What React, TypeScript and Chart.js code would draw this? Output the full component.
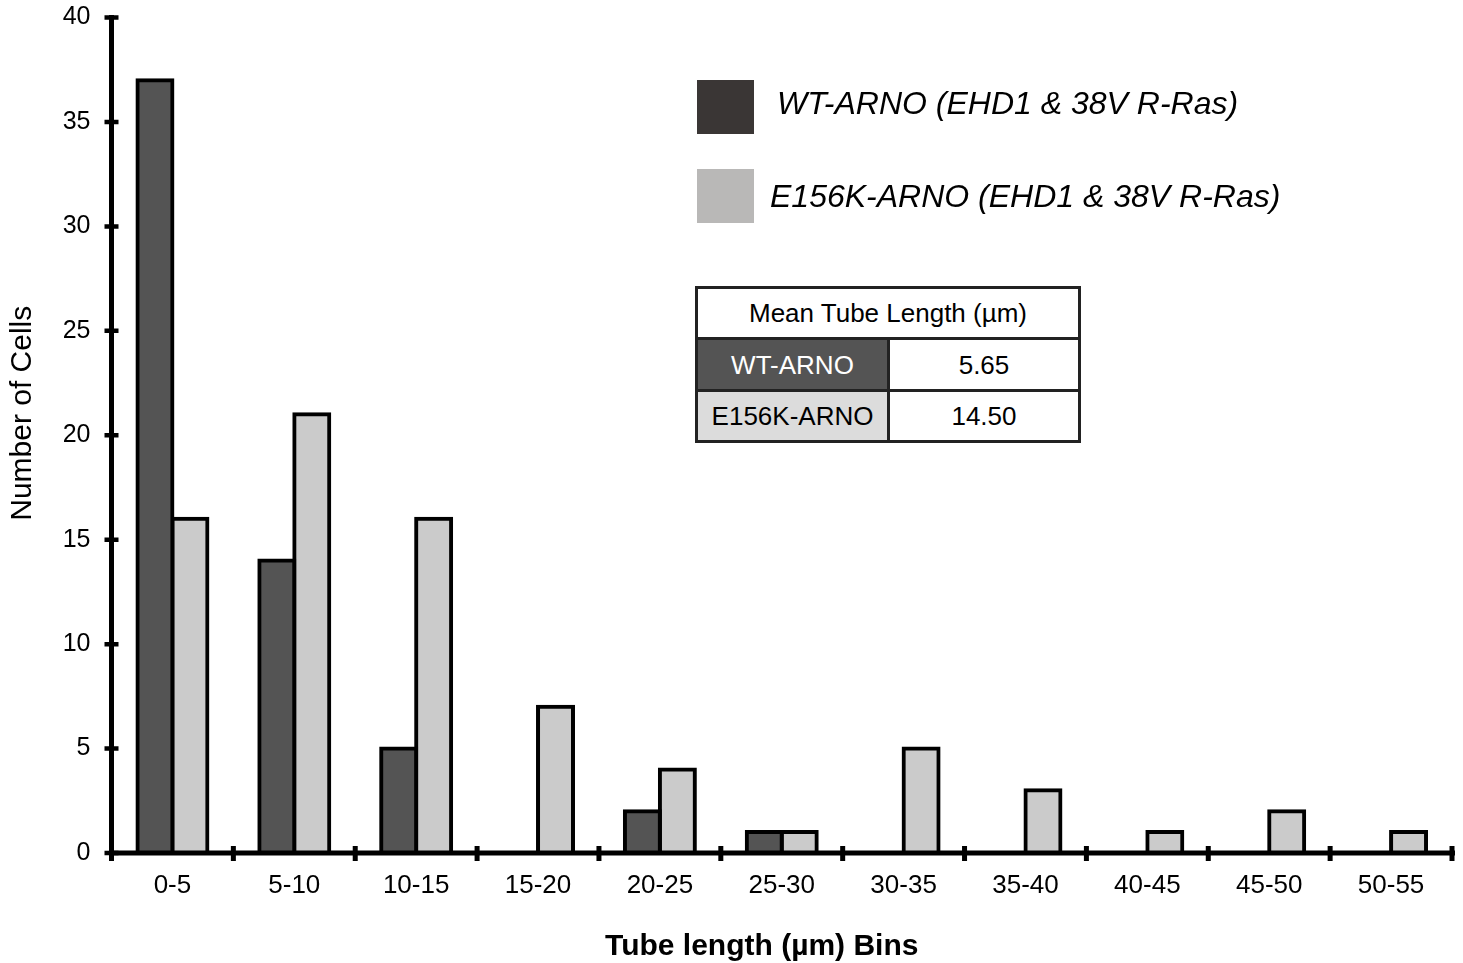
import React, { useEffect, useRef } from "react";
import { Chart, registerables } from "chart.js";

Chart.register(...registerables);

const FONT = "'Liberation Sans', Arial, Helvetica, sans-serif";

const categories = ["0-5", "5-10", "10-15", "15-20", "20-25", "25-30", "30-35", "35-40", "40-45", "45-50", "50-55"];
const wtValues = [37, 14, 5, 0, 2, 1, 0, 0, 0, 0, 0];
const e156kValues = [16, 21, 16, 7, 4, 1, 5, 3, 1, 2, 1];
const yTickValues = [0, 5, 10, 15, 20, 25, 30, 35, 40];
const seriesNames = ["WT-ARNO (EHD1 & 38V R-Ras)", "E156K-ARNO (EHD1 & 38V R-Ras)"];
const tableHeader = "Mean Tube Length (µm)";
const tableRows = [
  { name: "WT-ARNO", mean: "5.65" },
  { name: "E156K-ARNO", mean: "14.50" },
];
const yTitle = "Number of Cells";
const xTitle = "Tube length (µm) Bins";

const axesPlugin = {
  id: "customAxes",
  afterDatasetsDraw(chart: any) {
    const { ctx, chartArea, scales } = chart;
    const x = scales.x;
    const y = scales.y;
    const left = chartArea.left;
    const yTop = y.getPixelForValue(yTickValues[yTickValues.length - 1]);
    const yBot = y.getPixelForValue(0);
    ctx.save();
    ctx.strokeStyle = "#000";
    ctx.lineCap = "butt";
    // y axis line
    ctx.lineWidth = 5;
    ctx.beginPath();
    ctx.moveTo(left, yTop - 2.5);
    ctx.lineTo(left, yBot + 2.5);
    ctx.stroke();
    // y ticks
    ctx.lineWidth = 4.5;
    ctx.beginPath();
    yTickValues.forEach((v) => {
      const py = y.getPixelForValue(v);
      ctx.moveTo(left - 7, py);
      ctx.lineTo(left + 7, py);
    });
    ctx.stroke();
    // x axis line
    ctx.lineWidth = 5;
    ctx.beginPath();
    ctx.moveTo(left - 2.5, yBot);
    ctx.lineTo(chartArea.right + 3, yBot);
    ctx.stroke();
    // x ticks at category boundaries
    ctx.lineWidth = 5;
    ctx.beginPath();
    for (let i = 0; i <= categories.length; i++) {
      const px = x.getPixelForValue(i - 0.5);
      ctx.moveTo(px, yBot - 7);
      ctx.lineTo(px, yBot + 8);
    }
    ctx.stroke();
    // axis titles
    ctx.fillStyle = "#000";
    ctx.textAlign = "center";
    ctx.textBaseline = "middle";
    ctx.font = `30px ${FONT}`;
    ctx.save();
    ctx.translate(23, (chartArea.top + chartArea.bottom) / 2 - 22);
    ctx.rotate(-Math.PI / 2);
    ctx.fillText(yTitle, 0, 0);
    ctx.restore();
    ctx.font = `bold 30px ${FONT}`;
    ctx.textBaseline = "alphabetic";
    ctx.fillText(xTitle, (chartArea.left + chartArea.right) / 2 - 20, 955);
    ctx.restore();
  },
};

export default function App() {
  const canvasRef = useRef<HTMLCanvasElement | null>(null);

  useEffect(() => {
    if (!canvasRef.current) return;
    const chart = new Chart(canvasRef.current, {
      type: "bar",
      data: {
        labels: categories,
        datasets: [
          {
            label: seriesNames[0],
            data: wtValues,
            backgroundColor: "#545454",
            borderColor: "#000",
            borderWidth: 4,
            borderSkipped: false,
            inflateAmount: 2,
            barPercentage: 1,
            categoryPercentage: 0.574,
          } as any,
          {
            label: seriesNames[1],
            data: e156kValues,
            backgroundColor: "#cbcbcb",
            borderColor: "#000",
            borderWidth: 4,
            borderSkipped: false,
            inflateAmount: 2,
            barPercentage: 1,
            categoryPercentage: 0.574,
          } as any,
        ],
      },
      options: {
        animation: false,
        responsive: false,
        events: [],
        layout: { padding: { top: 17.5, right: 11, left: 0, bottom: 0 } },
        plugins: {
          legend: { display: false },
          tooltip: { enabled: false },
          title: { display: false },
        },
        scales: {
          x: {
            type: "category",
            offset: true,
            grid: { display: false, drawTicks: false },
            border: { display: false },
            ticks: {
              color: "#000",
              font: { family: FONT, size: 26 },
              padding: 17,
              maxRotation: 0,
              minRotation: 0,
              autoSkip: false,
            },
            afterFit: (s: any) => {
              s.height = 110;
              s.paddingLeft = 0;
              s.paddingRight = 0;
            },
          },
          y: {
            type: "linear",
            min: 0,
            max: 40,
            grid: { display: false, drawTicks: false },
            border: { display: false },
            ticks: {
              color: "#000",
              font: { family: FONT, size: 25 },
              padding: 21,
            },
            afterBuildTicks: (s: any) => {
              s.ticks = yTickValues.map((v) => ({ value: v }));
            },
            afterFit: (s: any) => {
              s.width = 111.5;
              s.paddingTop = 0;
              s.paddingBottom = 0;
            },
          },
        },
      } as any,
      plugins: [axesPlugin],
    });
    return () => chart.destroy();
  }, []);

  const legendColors = ["#3a3635", "#b9b8b7"];
  const legendTops = [80, 169];
  const legendTextLeft = [777, 770];
  const legendTextTop = [87, 180];

  return (
    <div
      style={{
        position: "fixed",
        left: 0,
        top: 0,
        width: 1463,
        height: 963,
        background: "#fff",
        fontFamily: FONT,
        overflow: "hidden",
      }}
    >
      <canvas ref={canvasRef} width={1463} height={963} style={{ position: "absolute", left: 0, top: 0, width: 1463, height: 963 }} />
      {seriesNames.map((name, i) => (
        <React.Fragment key={name}>
          <div
            style={{
              position: "absolute",
              left: 697,
              top: legendTops[i],
              width: 57,
              height: 54,
              background: legendColors[i],
            }}
          />
          <div
            style={{
              position: "absolute",
              left: legendTextLeft[i],
              top: legendTextTop[i],
              fontSize: 32,
              lineHeight: "32px",
              fontStyle: "italic",
              color: "#000",
              whiteSpace: "nowrap",
            }}
          >
            {name}
          </div>
        </React.Fragment>
      ))}
      {/* Mean table */}
      <div
        style={{
          position: "absolute",
          left: 695,
          top: 286,
          width: 386,
          height: 157,
          boxSizing: "border-box",
          border: "3px solid #222",
          background: "#fff",
        }}
      >
        <div
          style={{
            position: "absolute",
            left: 0,
            top: 0,
            width: 380,
            height: 48,
            display: "flex",
            alignItems: "center",
            justifyContent: "center",
            fontSize: 26,
            lineHeight: "26px",
            color: "#000",
            whiteSpace: "nowrap",
          }}
        >
          {tableHeader}
        </div>
        <div style={{ position: "absolute", left: 0, top: 48, width: 380, height: 3, background: "#222" }} />
        {tableRows.map((r, i) => {
          const top = i === 0 ? 51 : 103;
          const h = i === 0 ? 49 : 48;
          return (
            <React.Fragment key={r.name}>
              <div
                style={{
                  position: "absolute",
                  left: 0,
                  top,
                  width: 189,
                  height: h,
                  background: i === 0 ? "#545454" : "#dcdcdc",
                  color: i === 0 ? "#fff" : "#000",
                  display: "flex",
                  alignItems: "center",
                  justifyContent: "center",
                  fontSize: 26,
                  lineHeight: "26px",
                  whiteSpace: "nowrap",
                }}
              >
                {r.name}
              </div>
              <div style={{ position: "absolute", left: 189, top, width: 3, height: h, background: "#222" }} />
              <div
                style={{
                  position: "absolute",
                  left: 192,
                  top,
                  width: 188,
                  height: h,
                  display: "flex",
                  alignItems: "center",
                  justifyContent: "center",
                  fontSize: 26,
                  lineHeight: "26px",
                  color: "#000",
                  whiteSpace: "nowrap",
                }}
              >
                {r.mean}
              </div>
            </React.Fragment>
          );
        })}
        <div style={{ position: "absolute", left: 0, top: 100, width: 380, height: 3, background: "#222" }} />
      </div>
    </div>
  );
}
